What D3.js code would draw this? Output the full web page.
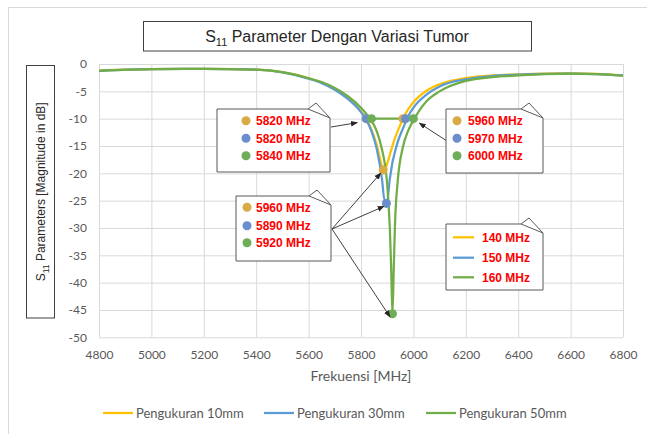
<!DOCTYPE html>
<html>
<head>
<meta charset="UTF-8" />
<title>S11 Parameter Dengan Variasi Tumor</title>
<script src="https://d3js.org/d3.v7.min.js"></script>
<style>
  body { margin: 0; background: #fff; }
  svg { display: block; }
  .tick text { font: 12px Lato, sans-serif; fill: #595959; }
  .grid line { stroke: #d9d9d9; stroke-width: 1; }
  .callout-text { font: bold 12px "Liberation Sans", Arial, sans-serif; fill: #ff0000; }
</style>
</head>
<body>
<script>
// frequency grid (MHz) and S11 values (dB)
var freq = [4800, 5000, 5200, 5400, 5500, 5600, 5650, 5700, 5750, 5800, 5820, 5840, 5860, 5880, 5890,
            5900, 5910, 5915, 5920, 5925, 5930, 5940, 5960, 5980, 6000, 6050, 6100, 6200, 6300, 6400,
            6500, 6600, 6700, 6800];
var s10mm = [-1.2, -0.95, -0.9, -1.05, -1.5, -2.6, -3.4, -4.6, -6.3, -8.7, -10.0, -12.0, -14.8, -18.6, -19.4,
             -18.2, -16.6, -15.8, -15.0, -14.2, -13.5, -12.3, -10.0, -8.3, -7.0, -4.9, -3.7, -2.6, -2.1, -1.9,
             -1.75, -1.7, -1.8, -2.1];
var s30mm = [-1.25, -0.95, -0.9, -1.05, -1.55, -2.7, -3.5, -4.7, -6.4, -8.8, -10.2, -12.3, -15.5, -21.0, -25.0,
             -25.0, -21.0, -19.5, -18.0, -17.0, -16.0, -14.3, -11.8, -9.6, -8.0, -5.6, -4.1, -2.8, -2.2, -1.95,
             -1.8, -1.75, -1.85, -2.1];
var s50mm = [-1.25, -0.95, -0.9, -1.05, -1.5, -2.6, -3.3, -4.4, -5.9, -8.0, -9.1, -10.3, -12.3, -15.6, -18.0,
             -22.0, -30.0, -37.0, -45.7, -37.5, -29.0, -21.5, -15.2, -12.2, -10.3, -6.8, -5.0, -3.1, -2.4, -2.1,
             -1.85, -1.75, -1.85, -2.15];

var seriesNames = ["Pengukuran 10mm", "Pengukuran 30mm", "Pengukuran 50mm"];
var lineColors = ["#ffc000", "#5b9bd5", "#70ad47"];
var dotColors = ["#d9ab45", "#6a8ecb", "#6dae57"];

// -10 dB crossing points (MHz), left and right
var cutLeft = [5820, 5820, 5840];
var cutRight = [5960, 5970, 6000];
// minimum points as plotted (MHz, dB) and the labels written beside them
var minFreq = [5885, 5897, 5920];
var minDb = [-19.4, -25.5, -45.7];
var minLabel = [5960, 5890, 5920];
var bandwidth = ["140 MHz", "150 MHz", "160 MHz"];

var xTicks = d3.range(4800, 6801, 200);
var yTicks = d3.range(-50, 1, 5);

var W = 647, H = 434;
var svg = d3.select("body").append("svg").attr("width", W).attr("height", H);

// outer chart frame
svg.append("rect").attr("x", 8.5).attr("y", 7.5).attr("width", 700).attr("height", 500)
  .attr("fill", "none").attr("stroke", "#d9d9d9");

var x = d3.scaleLinear().domain([4800, 6800]).range([99, 623]);
var y = d3.scaleLinear().domain([-50, 0]).range([337.3, 64]);

// gridlines + tick labels
var yAxis = svg.append("g").attr("class", "grid").attr("transform", "translate(99,0)")
  .call(d3.axisLeft(y).tickValues(yTicks).tickSize(-(623 - 99)).tickPadding(12).tickFormat(d3.format("d")));
var xAxis = svg.append("g").attr("class", "grid").attr("transform", "translate(0,337.3)")
  .call(d3.axisBottom(x).tickValues(xTicks).tickSize(-(337.3 - 64)).tickPadding(13).tickFormat(d3.format("d")));
svg.selectAll(".grid .domain").remove();
yAxis.selectAll("text").text(function(d) { return d === 0 ? "0" : "-" + Math.abs(d); });

// series lines
var line = d3.line()
  .x(function(d) { return x(d[0]); })
  .y(function(d) { return y(d[1]); })
  .curve(d3.curveMonotoneX);

[s10mm, s30mm, s50mm].forEach(function(s, i) {
  svg.append("path")
    .datum(freq.map(function(f, j) { return [f, s[j]]; }))
    .attr("d", line)
    .attr("fill", "none")
    .attr("stroke", lineColors[i])
    .attr("stroke-width", 2.25);
});

// -10 dB bandwidth line
svg.append("line")
  .attr("x1", x(cutLeft[2])).attr("x2", x(cutRight[2]))
  .attr("y1", y(-10)).attr("y2", y(-10))
  .attr("stroke", lineColors[2]).attr("stroke-width", 2.25);

// markers
for (var i = 0; i < 3; i++) {
  svg.append("circle").attr("cx", x(cutLeft[i])).attr("cy", y(-10)).attr("r", 4.5).attr("fill", dotColors[i]);
  svg.append("circle").attr("cx", x(cutRight[i])).attr("cy", y(-10)).attr("r", 4.5).attr("fill", dotColors[i]);
  svg.append("circle").attr("cx", x(minFreq[i])).attr("cy", y(minDb[i])).attr("r", 4.5).attr("fill", dotColors[i]);
}

// arrowhead
svg.append("defs").append("marker")
  .attr("id", "arrow").attr("viewBox", "0 0 10 10").attr("refX", 9).attr("refY", 5)
  .attr("markerWidth", 7).attr("markerHeight", 7).attr("orient", "auto")
  .append("path").attr("d", "M0,1 L10,5 L0,9 Z").attr("fill", "#262626");

function arrow(x1, y1, x2, y2) {
  svg.append("line").attr("x1", x1).attr("y1", y1).attr("x2", x2).attr("y2", y2)
    .attr("stroke", "#404040").attr("stroke-width", 1).attr("marker-end", "url(#arrow)");
}

// callout box with small folded tab at the top-right corner
function callout(bx, by, bw, bh) {
  var g = svg.append("g").attr("transform", "translate(" + bx + "," + by + ")");
  g.append("path")
    .attr("d", "M0,0 H" + (bw - 22) + " L" + (bw - 14) + ",-6 L" + bw + ",9 V" + bh + " H0 Z")
    .attr("fill", "#fff").attr("stroke", "#595959").attr("stroke-width", 1);
  g.append("path")
    .attr("d", "M" + (bw - 22) + ",0 L" + bw + ",9")
    .attr("fill", "none").attr("stroke", "#595959").attr("stroke-width", 1);
  return g;
}

// box with coloured dots + red labels
function dotList(bx, by, bw, bh, rows, labels, dotX, textX) {
  var g = callout(bx, by, bw, bh);
  labels.forEach(function(t, k) {
    g.append("circle").attr("cx", dotX).attr("cy", rows[k] - by).attr("r", 4.5).attr("fill", dotColors[k]);
    g.append("text").attr("class", "callout-text").attr("x", textX).attr("y", rows[k] - by).attr("dy", "0.36em").text(t);
  });
}

arrow(331, 127, x(cutLeft[1]) - 9, y(-10) + 4);
arrow(447, 141, x(cutRight[2]) + 6, y(-10) + 4.5);
for (var k = 0; k < 3; k++) {
  arrow(332, 229, x(minFreq[k]) - 2.5, y(minDb[k]) + 3);
}

function mhz(f) { return f + " MHz"; }
dotList(217, 109, 113, 63, [120.7, 138.3, 155.7], cutLeft.map(mhz), 29, 39);
dotList(446, 109, 97, 64, [120.7, 138.3, 155.7], cutRight.map(mhz), 11, 22);
dotList(236, 196, 95, 65, [207.3, 225.7, 242.7], minLabel.map(mhz), 11, 20);

// bandwidth legend box
var bw = callout(446, 224, 97, 66);
bandwidth.forEach(function(b, k) {
  var ry = [237.3, 257.7, 277.3][k] - 224;
  bw.append("line").attr("x1", 7).attr("x2", 28).attr("y1", ry).attr("y2", ry)
    .attr("stroke", lineColors[k]).attr("stroke-width", 2.25);
  bw.append("text").attr("class", "callout-text").attr("x", 36).attr("y", ry).attr("dy", "0.36em").text(b);
});

// chart title
svg.append("rect").attr("x", 143.5).attr("y", 21.5).attr("width", 388).attr("height", 29.5)
  .attr("fill", "#fff").attr("stroke", "#404040");
var title = svg.append("text").attr("x", 337).attr("y", 42)
  .attr("text-anchor", "middle")
  .style("font", "16px 'Liberation Sans', Arial, sans-serif").attr("fill", "#262626");
title.append("tspan").text("S");
title.append("tspan").attr("dy", 4).style("font-size", "11px").text("11");
title.append("tspan").attr("dy", -4).text(" Parameter Dengan Variasi Tumor");

// y axis title
svg.append("rect").attr("x", 26.5).attr("y", 65.5).attr("width", 28).attr("height", 252.5)
  .attr("fill", "#fff").attr("stroke", "#404040");
var ytitle = svg.append("text")
  .attr("transform", "translate(45,191.8) rotate(-90)")
  .attr("text-anchor", "middle")
  .style("font", "12px 'Liberation Sans', Arial, sans-serif").attr("fill", "#262626");
ytitle.append("tspan").text("S");
ytitle.append("tspan").attr("dy", 3.5).style("font-size", "8.5px").text("11");
ytitle.append("tspan").attr("dy", -3.5).text(" Parameters [Magnitude in dB]");

// x axis title
svg.append("text").attr("x", 361).attr("y", 381).attr("text-anchor", "middle")
  .style("font", "14px Lato, sans-serif").attr("fill", "#595959")
  .text("Frekuensi [MHz]");

// bottom legend
var legendX = [103, 264, 426];
seriesNames.forEach(function(n, i) {
  svg.append("line").attr("x1", legendX[i]).attr("x2", legendX[i] + 30).attr("y1", 413).attr("y2", 413)
    .attr("stroke", lineColors[i]).attr("stroke-width", 2.25);
  svg.append("text").attr("x", legendX[i] + 33).attr("y", 413).attr("dy", "0.35em")
    .style("font", "13px Lato, sans-serif").attr("fill", "#595959").text(n);
});
</script>
</body>
</html>
